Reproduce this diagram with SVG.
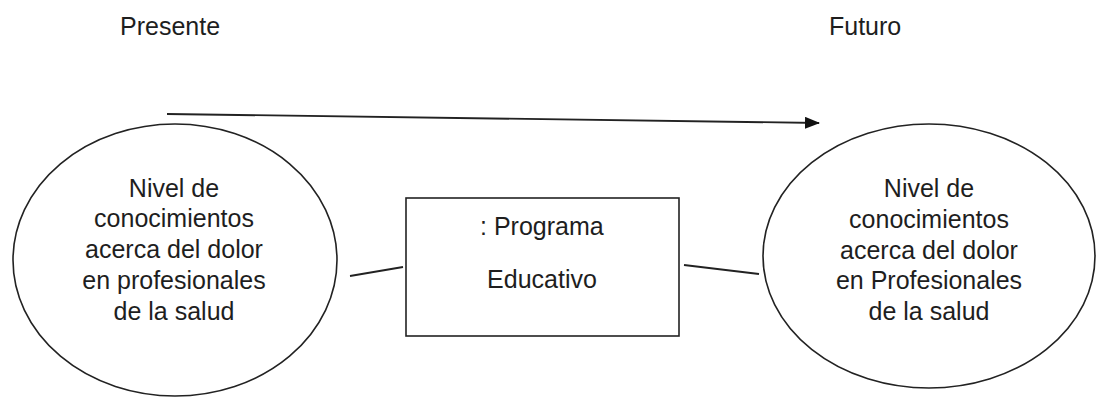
<svg xmlns="http://www.w3.org/2000/svg" width="1096" height="398" viewBox="0 0 1096 398">
<defs>
<style>
text{font-family:"Liberation Sans",Arial,sans-serif;font-size:25px;fill:#1e1e1e}
.c{text-anchor:middle}
.shape{fill:#fff;stroke:#222;stroke-width:1.6}
.ln{stroke:#222;stroke-width:1.8;fill:none}
</style>
<marker id="ah" markerWidth="15" markerHeight="12" refX="14" refY="6" orient="auto" markerUnits="userSpaceOnUse">
<path d="M0,0 L15,6 L0,12 z" fill="#111"/>
</marker>
</defs>
<rect width="1096" height="398" fill="#fff"/>
<g id="label-presente"><text x="120" y="35">Presente</text></g>
<g id="label-futuro"><text x="829" y="35">Futuro</text></g>
<g id="connectors">
<line class="ln" x1="167" y1="114" x2="819" y2="123" marker-end="url(#ah)"/>
<line class="ln" x1="350" y1="276" x2="403" y2="267"/>
<line class="ln" x1="684" y1="265" x2="759" y2="274"/>
</g>
<g id="node-presente">
<ellipse class="shape" cx="175" cy="260" rx="162" ry="136"/>
<text class="c" x="174" y="197">Nivel de</text>
<text class="c" x="174" y="227">conocimientos</text>
<text class="c" x="174" y="258">acerca del dolor</text>
<text class="c" x="174" y="289">en profesionales</text>
<text class="c" x="174" y="320">de la salud</text>
</g>
<g id="node-programa">
<rect class="shape" x="406" y="198" width="273" height="138"/>
<text x="480" y="235">: Programa</text>
<text class="c" x="542" y="288">Educativo</text>
</g>
<g id="node-futuro">
<ellipse class="shape" cx="929" cy="256" rx="166" ry="132"/>
<text class="c" x="929" y="197">Nivel de</text>
<text class="c" x="929" y="228">conocimientos</text>
<text class="c" x="929" y="259">acerca del dolor</text>
<text class="c" x="929" y="289">en Profesionales</text>
<text class="c" x="929" y="320">de la salud</text>
</g>
</svg>
